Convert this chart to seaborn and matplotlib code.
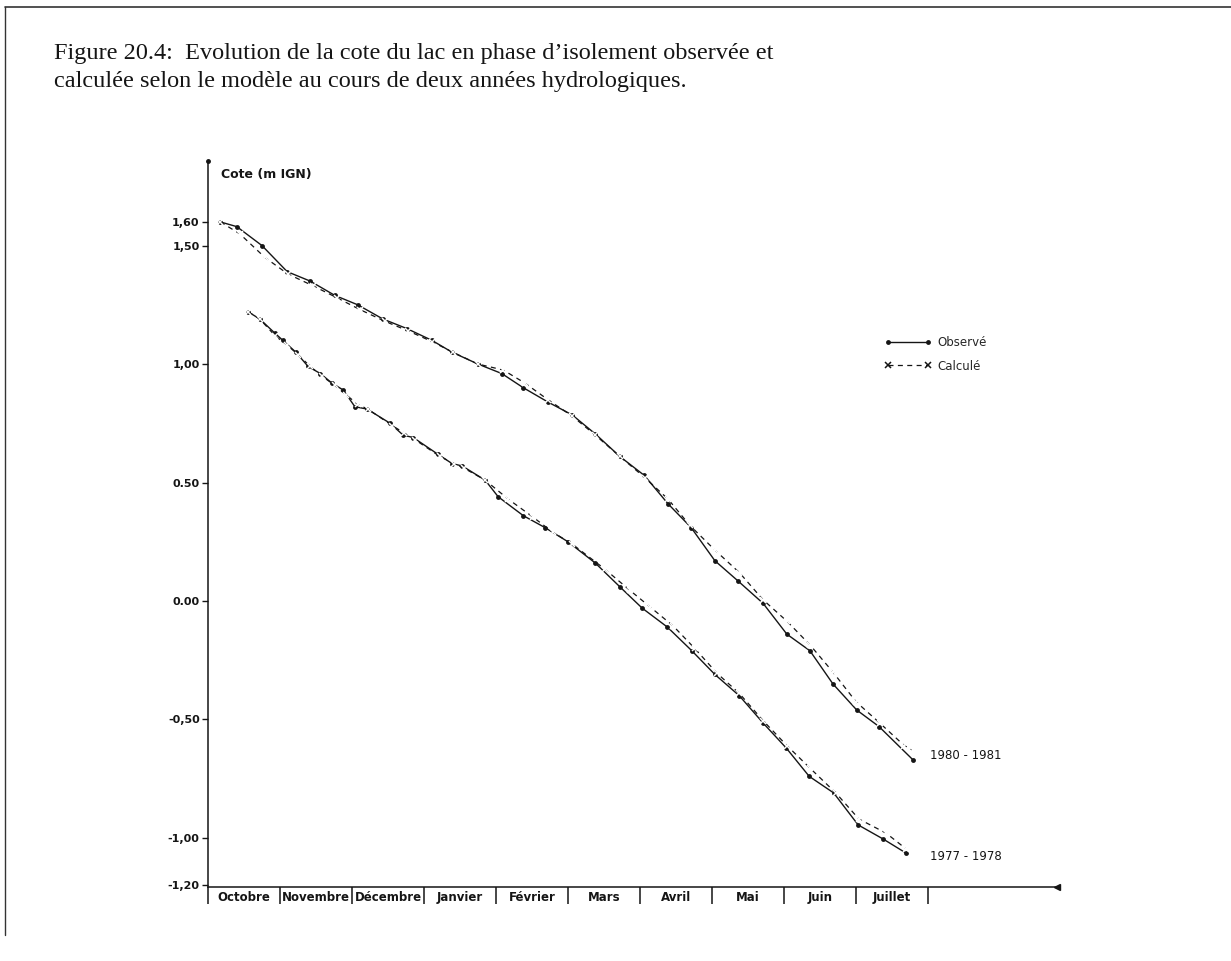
import numpy as np
import pandas as pd
import matplotlib
matplotlib.use("Agg")
import matplotlib.pyplot as plt
from matplotlib.lines import Line2D
import seaborn as sns

# Figure 20.4 : cote du lac (m IGN), observée et calculée, deux années hydrologiques
# abscisse en mois depuis le 1er octobre (0 = début octobre, 10 = fin juillet)

mois = ["Octobre", "Novembre", "Décembre", "Janvier", "Février",
        "Mars", "Avril", "Mai", "Juin", "Juillet"]

# 1980 - 1981
x_obs_80 = [0.17, 0.40, 0.75, 1.10, 1.42, 1.76, 2.08, 2.43, 2.76, 3.11,
            3.39, 3.75, 4.08, 4.38, 4.72, 5.06, 5.38, 5.72, 6.06, 6.39,
            6.71, 7.04, 7.36, 7.71, 8.04, 8.36, 8.68, 9.01, 9.32, 9.79]
obs_80 = [1.60, 1.58, 1.50, 1.39, 1.35, 1.29, 1.25, 1.19, 1.15, 1.10,
          1.05, 1.00, 0.96, 0.90, 0.84, 0.785, 0.705, 0.61, 0.53, 0.41,
          0.31, 0.17, 0.085, -0.01, -0.14, -0.21, -0.35, -0.46, -0.53, -0.67]
x_calc_80 = [0.17, 0.44, 0.79, 1.11, 1.46, 1.79, 2.11, 2.46, 2.78, 3.11,
             3.40, 3.75, 4.10, 4.40, 4.72, 5.06, 5.38, 5.72, 6.07, 6.39,
             6.69, 7.04, 7.38, 7.71, 8.04, 8.36, 8.68, 9.00, 9.33, 9.67, 9.79]
calc_80 = [1.60, 1.55, 1.45, 1.38, 1.33, 1.28, 1.23, 1.18, 1.14, 1.095,
           1.05, 1.00, 0.975, 0.92, 0.85, 0.78, 0.70, 0.61, 0.52, 0.43,
           0.32, 0.215, 0.12, 0.005, -0.085, -0.185, -0.30, -0.425, -0.515, -0.61, -0.63]

# 1977 - 1978
x_obs_77 = [0.56, 0.72, 0.93, 1.04, 1.22, 1.39, 1.56, 1.72, 1.88, 2.04,
            2.21, 2.53, 2.71, 2.85, 3.19, 3.39, 3.53, 3.85, 4.03, 4.38,
            4.68, 5.00, 5.38, 5.72, 6.03, 6.38, 6.72, 7.04, 7.38, 7.71,
            8.03, 8.35, 8.69, 9.03, 9.38, 9.69]
obs_77 = [1.22, 1.19, 1.13, 1.10, 1.05, 0.99, 0.96, 0.92, 0.89, 0.82,
          0.81, 0.75, 0.70, 0.69, 0.62, 0.58, 0.57, 0.51, 0.44, 0.36,
          0.31, 0.25, 0.16, 0.06, -0.03, -0.11, -0.21, -0.31, -0.40, -0.515,
          -0.62, -0.74, -0.81, -0.945, -1.005, -1.063]
x_calc_77 = [0.56, 0.72, 0.93, 1.10, 1.25, 1.42, 1.58, 1.76, 1.92, 2.08,
             2.22, 2.56, 2.72, 2.88, 3.22, 3.42, 3.56, 3.85, 4.17, 4.51,
             4.79, 5.06, 5.51, 5.86, 6.14, 6.46, 6.76, 7.07, 7.38, 7.71,
             8.04, 8.36, 8.72, 9.04, 9.42, 9.69]
calc_77 = [1.22, 1.19, 1.12, 1.08, 1.04, 0.99, 0.95, 0.91, 0.87, 0.83,
           0.81, 0.74, 0.71, 0.68, 0.61, 0.58, 0.56, 0.51, 0.43, 0.355,
           0.29, 0.24, 0.135, 0.045, -0.025, -0.105, -0.20, -0.305, -0.39, -0.505,
           -0.61, -0.705, -0.81, -0.92, -0.98, -1.045]

yticks = [1.60, 1.50, 1.00, 0.50, 0.00, -0.50, -1.00, -1.20]
ytick_labels = ["1,60", "1,50", "1,00", "0.50", "0.00", "-0,50", "-1,00", "-1,20"]

sns.set_style("white")
plt.rcParams["font.family"] = ["DejaVu Sans"]

W, H = 1231, 961
fig = plt.figure(figsize=(W / 100, H / 100), dpi=100)
ax = fig.add_axes([208 / W, 1 - 887 / H, (1057 - 208) / W, (887 - 161) / H])

encre = "#151515"
obs_kw = dict(color=encre, linewidth=1.0, marker="o", markersize=3.5,
              markeredgewidth=0, sort=False, ax=ax)
calc_kw = dict(color=encre, linewidth=0.9, linestyle=(0, (4, 3.5)), marker="x",
               markersize=5, markeredgewidth=1.1, sort=False, ax=ax)

sns.lineplot(x=x_obs_80, y=obs_80, **obs_kw)
sns.lineplot(x=x_calc_80, y=calc_80, **calc_kw)
sns.lineplot(x=x_obs_77, y=obs_77, **obs_kw)
sns.lineplot(x=x_calc_77, y=calc_77, **calc_kw)

ax.set_xlim(0, (1057 - 208) / 72)
ax.set_ylim(-1.207, 1.857)
sns.despine(ax=ax)
for s in ["left", "bottom"]:
    ax.spines[s].set_color(encre)
    ax.spines[s].set_linewidth(1.1)

# bornes des mois (traits vers le bas) et noms centrés dans chaque case
ax.set_xticks(np.arange(0, 11))
ax.set_xticklabels([])
ax.set_xticks(np.arange(10) + 0.5, minor=True)
ax.set_xticklabels(mois, minor=True, fontsize=8.5, fontweight="bold", color=encre)
ax.tick_params(axis="x", which="major", direction="out", length=12, width=1.1,
               color=encre, bottom=True)
ax.tick_params(axis="x", which="minor", length=0, pad=3)

ax.set_yticks(yticks)
ax.set_yticklabels(ytick_labels, fontsize=8, fontweight="bold", color=encre)
ax.tick_params(axis="y", direction="out", length=4, width=1, color=encre,
               left=True, pad=2)
ax.set_xlabel("")
ax.set_ylabel("")

# flèche de l'axe des temps, point en haut de l'axe des cotes
ax.plot([1], [0], marker="<", color=encre, markersize=4,
        transform=ax.transAxes, clip_on=False)
ax.plot([0], [1], marker="o", color=encre, markersize=2.5,
        transform=ax.transAxes, clip_on=False)

ax.text(0.18, 1.80, "Cote (m IGN)", fontsize=9, fontweight="bold",
        color=encre, va="center", ha="left")
ax.text(10.03, -0.65, "1980 - 1981", fontsize=8.5, color=encre, va="center")
ax.text(10.03, -1.08, "1977 - 1978", fontsize=8.5, color=encre, va="center")

poignees = [
    Line2D([], [], color=encre, lw=1.0, marker="o", ms=3.5, mew=0),
    Line2D([], [], color=encre, lw=0.9, ls=(0, (4, 3.5)), marker="x", ms=5, mew=1.1),
]
ax.legend(poignees, ["Observé", "Calculé"], loc="upper left",
          bbox_to_anchor=((884 - 208) / 849, (887 - 336) / 726),
          frameon=False, fontsize=8.5, numpoints=2, handlelength=4.0,
          handletextpad=0.5, labelspacing=0.9, borderpad=0, borderaxespad=0)

# titre (police à empattements comme le document)
titre_kw = dict(fontsize=17.5, family=["Liberation Serif", "DejaVu Serif"],
                color=encre, ha="left", va="center")
fig.text(54 / W, 1 - 54 / H,
         "Figure 20.4:  Evolution de la cote du lac en phase d\u2019isolement observée et",
         **titre_kw)
fig.text(54 / W, 1 - 82 / H,
         "calculée selon le modèle au cours de deux années hydrologiques.",
         **titre_kw)

# cadre de la page scannée
fig.add_artist(Line2D([5 / W, 1], [1 - 7 / H, 1 - 7 / H], color="#333", lw=1.2))
fig.add_artist(Line2D([5 / W, 5 / W], [1 - 7 / H, 1 - 935 / H], color="#333", lw=1.0))

fig.savefig("out.png", dpi=100)
